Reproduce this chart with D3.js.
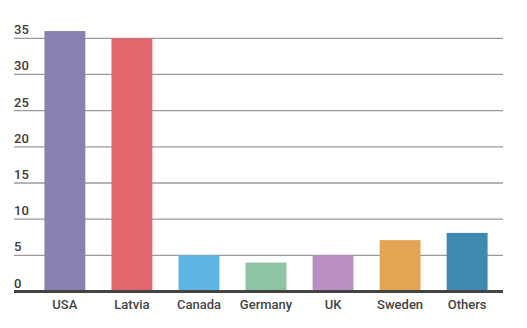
<!DOCTYPE html>
<html>
<head>
<meta charset="utf-8">
<script src="https://cdn.jsdelivr.net/npm/d3@7"></script>
<style>
  body { margin: 0; background: #fff; }
  svg { display: block; font-family: Roboto, sans-serif; }
</style>
</head>
<body>
<svg id="chart" width="527" height="328"></svg>
<script>
var countries = ['USA', 'Latvia', 'Canada', 'Germany', 'UK', 'Sweden', 'Others'];
var values = [36, 35, 5, 4, 5, 7.1, 8.1];
var colors = ['#8980b0', '#e0676b', '#5db5e4', '#8fc3a5', '#b98fc4', '#e4a453', '#3f88b0'];
var yTicks = [0, 5, 10, 15, 20, 25, 30, 35];

var svg = d3.select('#chart');
var data = countries.map((c, i) => ({name: c, value: values[i], color: colors[i]}));

var x = d3.scaleBand()
  .domain(countries)
  .range([31, 501])
  .paddingInner(0.39)
  .paddingOuter(0.2);

var y = d3.scaleLinear()
  .domain([0, 35])
  .range([291.5, 38.3]);

// gridlines with labels sitting above them
var grid = svg.append('g');
grid.selectAll('line')
  .data(yTicks.filter(d => d > 0))
  .enter().append('line')
    .attr('x1', 14)
    .attr('x2', 503)
    .attr('y1', d => y(d))
    .attr('y2', d => y(d))
    .attr('stroke', '#9a9a9a')
    .attr('stroke-width', 1.3);

grid.selectAll('text')
  .data(yTicks)
  .enter().append('text')
    .attr('x', 14)
    .attr('y', d => y(d) - 4)
    .attr('fill', '#3c3c3c')
    .attr('font-size', 13)
    .attr('font-weight', 500)
    .text(d => d);

svg.append('g').selectAll('rect')
  .data(data)
  .enter().append('rect')
    .attr('x', d => x(d.name))
    .attr('width', x.bandwidth())
    .attr('y', d => y(d.value))
    .attr('height', d => y(0) - y(d.value))
    .attr('fill', d => d.color);

// baseline
svg.append('line')
  .attr('x1', 14)
  .attr('x2', 503)
  .attr('y1', y(0))
  .attr('y2', y(0))
  .attr('stroke', '#444')
  .attr('stroke-width', 3);

var xAxis = svg.append('g')
  .attr('transform', 'translate(0,' + y(0) + ')')
  .call(d3.axisBottom(x).tickSize(0).tickPadding(8));
xAxis.select('.domain').remove();
xAxis.selectAll('text')
  .attr('font-family', 'Roboto, sans-serif')
  .attr('font-size', 13)
  .attr('font-weight', 500)
  .attr('fill', '#444');
</script>
</body>
</html>
